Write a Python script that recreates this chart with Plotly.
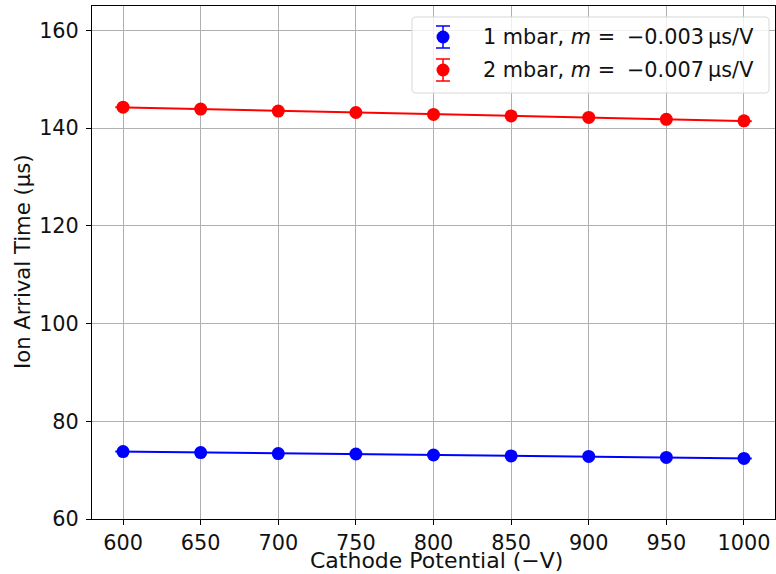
import numpy as np
import plotly.graph_objects as go

voltage = [600, 650, 700, 750, 800, 850, 900, 950, 1000]
t_1mbar = [73.8, 73.6, 73.4, 73.3, 73.1, 72.9, 72.8, 72.6, 72.4]
t_2mbar = [144.3, 143.9, 143.5, 143.2, 142.8, 142.5, 142.2, 141.8, 141.5]
err_1mbar = [0.3] * 9
err_2mbar = [0.3] * 9
labels = ["1 mbar, <i>m</i> = \u2005−0.003\u2009μs/V", "2 mbar, <i>m</i> = \u2005−0.007\u2009μs/V"]
colors = ["#0000ff", "#ff0000"]
fit_x = [595, 1005]
x_title = "Cathode Potential (−V)"
y_title = "Ion Arrival Time (μs)"

FONT = "DejaVu Sans"
TXT = "#111111"
W, H = 776, 574
L, R, T, B = 92, 775, 6, 519

fig = go.Figure()
for ys, es, c in [(t_1mbar, err_1mbar, colors[0]), (t_2mbar, err_2mbar, colors[1])]:
    m, b = np.polyfit(voltage, ys, 1)
    fx = np.array(fit_x, dtype=float)
    fig.add_trace(go.Scatter(x=fx, y=m * fx + b, mode="lines",
                             line=dict(color=c, width=2), showlegend=False, hoverinfo="skip"))
    fig.add_trace(go.Scatter(x=voltage, y=ys, mode="markers",
                             marker=dict(color=c, size=13, line=dict(width=0)),
                             error_y=dict(type="data", array=es, color=c, thickness=1.5, width=5),
                             showlegend=False))

def px(X):
    return (X - L) / (R - L)

def py(Y):
    return (B - Y) / (B - T)

shapes = []
annotations = []
# legend box (rounded corners), drawn in paper coordinates
x0, x1, y0, y1, r = 412, 769, 17, 93, 4
P = lambda X, Y: f"{px(X):.5f},{py(Y):.5f}"
path = (f"M {P(x0 + r, y0)} L {P(x1 - r, y0)} Q {P(x1, y0)} {P(x1, y0 + r)} L {P(x1, y1 - r)} "
        f"Q {P(x1, y1)} {P(x1 - r, y1)} L {P(x0 + r, y1)} Q {P(x0, y1)} {P(x0, y1 - r)} "
        f"L {P(x0, y0 + r)} Q {P(x0, y0)} {P(x0 + r, y0)} Z")
shapes.append(dict(type="path", xref="paper", yref="paper", path=path,
                   line=dict(color="#d8d8d8", width=1), fillcolor="rgba(255,255,255,0.8)", layer="above"))
for i, (lab, c) in enumerate(zip(labels, colors)):
    yc = 37 + i * 33
    xc = 443
    shapes.append(dict(type="line", xref="paper", yref="paper", x0=px(xc), x1=px(xc),
                       y0=py(yc - 11), y1=py(yc + 11), line=dict(color=c, width=1.5), layer="above"))
    for dy in (-11, 11):
        shapes.append(dict(type="line", xref="paper", yref="paper", x0=px(xc - 7), x1=px(xc + 7),
                           y0=py(yc + dy), y1=py(yc + dy), line=dict(color=c, width=1.5), layer="above"))
    shapes.append(dict(type="circle", xref="paper", yref="paper", x0=px(xc - 6.5), x1=px(xc + 6.5),
                       y0=py(yc + 6.5), y1=py(yc - 6.5), fillcolor=c, line=dict(width=0), layer="above"))
    annotations.append(dict(xref="paper", yref="paper", x=px(481), y=py(yc), xanchor="left",
                            yanchor="middle", text=lab, showarrow=False,
                            font=dict(family=FONT, size=20.8, color=TXT)))

annotations.append(dict(xref="paper", yref="paper", x=px(436), y=py(574), xanchor="center",
                        yanchor="bottom", text=x_title, showarrow=False, borderpad=0,
                        font=dict(family=FONT, size=22, color=TXT)))
annotations.append(dict(xref="paper", yref="paper", x=px(22), y=py(262), xanchor="center",
                        yanchor="middle", text=y_title, showarrow=False, textangle=-90,
                        font=dict(family=FONT, size=21.2, color=TXT)))

axis_common = dict(showline=True, linecolor="black", linewidth=1, mirror=True,
                   ticks="outside", ticklen=5, tickcolor="black", tickwidth=1,
                   showgrid=True, gridcolor="#b0b0b0", gridwidth=1, zeroline=False,
                   tickfont=dict(family=FONT, size=20.8, color=TXT))

fig.update_layout(
    width=W, height=H,
    margin=dict(l=L, r=W - R, t=T, b=H - B),
    paper_bgcolor="white", plot_bgcolor="white",
    showlegend=False,
    xaxis=dict(range=[580, 1020], tickvals=voltage, **axis_common),
    yaxis=dict(range=[60, 165], tickvals=[60, 80, 100, 120, 140, 160], ticklabelstandoff=3, **axis_common),
    shapes=shapes, annotations=annotations,
)
fig.write_html("out.html")
